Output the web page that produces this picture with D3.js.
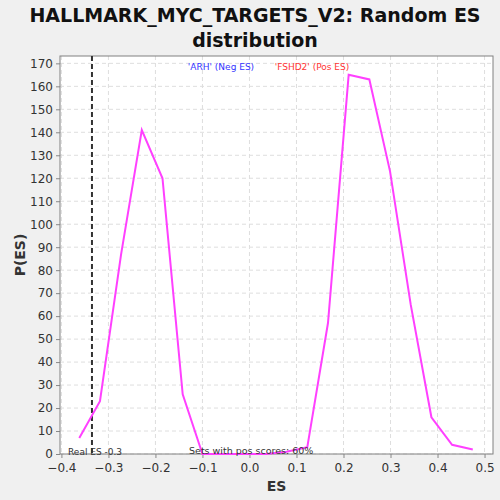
<!DOCTYPE html>
<html>
<head>
<meta charset="utf-8">
<script src="https://cdn.jsdelivr.net/npm/d3@7"></script>
<style>
  body { margin: 0; background: #f0f0f0; }
  text { font-family: "DejaVu Sans", sans-serif; }
</style>
</head>
<body>
<svg id="chart" width="500" height="500"></svg>
<script>
// Histogram of random ES values (bin centres and P(ES))
const esBins = [-0.362, -0.318, -0.273, -0.229, -0.185, -0.142, -0.100, -0.053, -0.009, 0.035, 0.079, 0.123, 0.167, 0.211, 0.255, 0.299, 0.343, 0.387, 0.431, 0.475];
const pValues = [7, 23, 87, 141, 120, 26, 0, 0, 0, 0, 1, 3, 57, 165, 163, 123, 65, 16, 4, 2];
const xTicks = [-0.4, -0.3, -0.2, -0.1, 0.0, 0.1, 0.2, 0.3, 0.4, 0.5];
const yTicks = [0, 10, 20, 30, 40, 50, 60, 70, 80, 90, 100, 110, 120, 130, 140, 150, 160, 170];
const realES = -0.335;
const titleLines = ["HALLMARK_MYC_TARGETS_V2: Random ES", "distribution"];

// Set up sizing constants
const margin = {top: 56, right: 7, bottom: 46, left: 60};
const svgWidth = 500;
const svgHeight = 500;
const width = svgWidth - margin.left - margin.right;
const height = svgHeight - margin.top - margin.bottom;

const svg = d3.select("svg#chart");

const xScale = d3.scaleLinear()
  .domain([-0.403, 0.518])
  .range([margin.left, margin.left + width]);

const yScale = d3.scaleLinear()
  .domain([0, 173.2])
  .range([margin.top + height, margin.top]);

// plot background
svg.append("rect")
  .attr("x", margin.left)
  .attr("y", margin.top)
  .attr("width", width)
  .attr("height", height)
  .attr("fill", "white");

// grid lines
svg.append("g")
  .selectAll("line.vgrid")
  .data(xTicks)
  .enter()
  .append("line")
  .attr("class", "vgrid")
  .attr("x1", d => xScale(d))
  .attr("x2", d => xScale(d))
  .attr("y1", margin.top)
  .attr("y2", margin.top + height)
  .attr("stroke", "#dedede")
  .attr("stroke-dasharray", "4,3");

svg.append("g")
  .selectAll("line.hgrid")
  .data(yTicks)
  .enter()
  .append("line")
  .attr("class", "hgrid")
  .attr("x1", margin.left)
  .attr("x2", margin.left + width)
  .attr("y1", d => yScale(d))
  .attr("y2", d => yScale(d))
  .attr("stroke", "#dedede")
  .attr("stroke-dasharray", "4,3");

// Axes
const xAxis = d3.axisBottom()
  .scale(xScale)
  .tickValues(xTicks)
  .tickFormat(d3.format(".1f"))
  .tickSize(4)
  .tickSizeOuter(0);

const yAxis = d3.axisLeft()
  .scale(yScale)
  .tickValues(yTicks)
  .tickSize(4)
  .tickSizeOuter(0);

const xAxisG = svg.append("g")
  .attr("transform", "translate(0," + (margin.top + height) + ")")
  .call(xAxis);

const yAxisG = svg.append("g")
  .attr("transform", "translate(" + margin.left + ",0)")
  .call(yAxis);

[xAxisG, yAxisG].forEach(g => {
  g.select(".domain").remove();
  g.selectAll(".tick line").attr("stroke", "#888");
  g.selectAll(".tick text")
    .attr("fill", "#333")
    .style("font-size", "12px");
});
xAxisG.selectAll(".tick text").attr("dy", "0.9em");

// plot border
svg.append("rect")
  .attr("x", margin.left)
  .attr("y", margin.top)
  .attr("width", width)
  .attr("height", height)
  .attr("fill", "none")
  .attr("stroke", "#808080")
  .attr("stroke-width", 1);

// real ES dashed line
svg.append("line")
  .attr("x1", xScale(realES))
  .attr("x2", xScale(realES))
  .attr("y1", margin.top)
  .attr("y2", margin.top + height)
  .attr("stroke", "#333")
  .attr("stroke-width", 2)
  .attr("stroke-dasharray", "5,3");

// ES distribution line
const esLine = d3.line()
  .x((d, i) => xScale(esBins[i]))
  .y(d => yScale(d));

svg.append("path")
  .attr("d", esLine(pValues))
  .attr("fill", "none")
  .attr("stroke", "#ff40ff")
  .attr("stroke-width", 2);

// annotations
svg.append("text")
  .attr("x", 68)
  .attr("y", 455)
  .attr("fill", "#333")
  .style("font-size", "9px")
  .text("Real ES -0.3");

svg.append("text")
  .attr("x", 189)
  .attr("y", 454)
  .attr("fill", "#333")
  .style("font-size", "9.5px")
  .text("Sets with pos scores: 60%");

svg.append("text")
  .attr("x", 221)
  .attr("y", 70)
  .attr("text-anchor", "middle")
  .attr("fill", "#3333ff")
  .style("font-size", "9px")
  .text("'ARH' (Neg ES)");

svg.append("text")
  .attr("x", 312)
  .attr("y", 70)
  .attr("text-anchor", "middle")
  .attr("fill", "#ff3333")
  .style("font-size", "9px")
  .text("'FSHD2' (Pos ES)");

// titles
svg.selectAll("text.title")
  .data(titleLines)
  .enter()
  .append("text")
  .attr("class", "title")
  .attr("x", 255)
  .attr("y", (d, i) => 22 + i * 25)
  .attr("text-anchor", "middle")
  .attr("fill", "#111")
  .style("font-size", "19px")
  .style("font-weight", "bold")
  .text(d => d);

svg.append("text")
  .attr("x", margin.left + width / 2)
  .attr("y", 491)
  .attr("text-anchor", "middle")
  .attr("fill", "#333")
  .style("font-size", "14px")
  .style("font-weight", "bold")
  .text("ES");

svg.append("text")
  .attr("transform", "translate(25," + (margin.top + height / 2) + ") rotate(-90)")
  .attr("text-anchor", "middle")
  .attr("fill", "#333")
  .style("font-size", "14px")
  .style("font-weight", "bold")
  .text("P(ES)");
</script>
</body>
</html>
